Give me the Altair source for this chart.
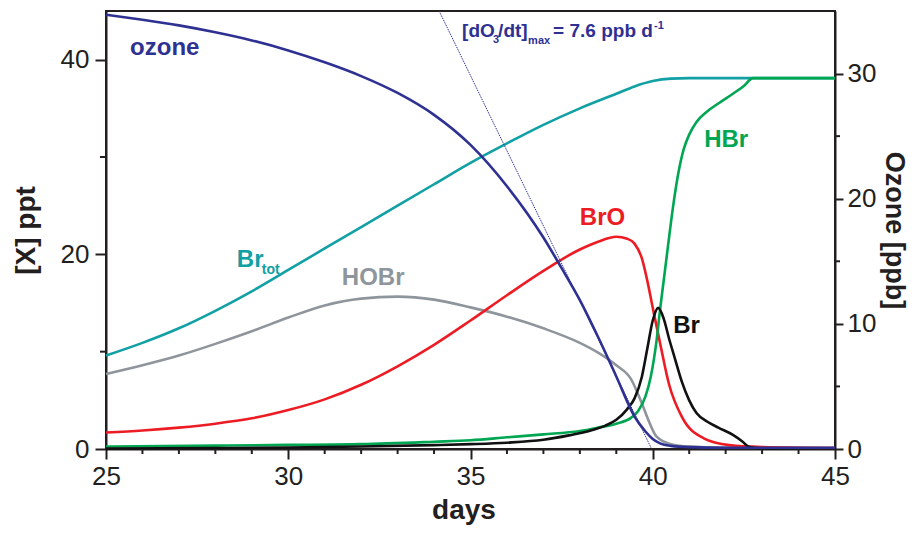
import altair as alt
import pandas as pd

FONT = "Liberation Sans"
INK = "#231f20"

# ---------------- data ----------------
ozone_day = [25, 26, 27, 28, 29, 30, 31, 32, 33, 34, 35, 36, 37, 37.5, 38, 38.5, 39, 39.5, 39.8, 40.0, 40.2, 40.5, 41, 42, 45]
ozone_ppb = [34.7, 34.3, 33.85, 33.3, 32.65, 31.85, 30.9, 29.8, 28.45, 26.7, 24.3, 21.0, 16.9, 14.45, 11.9, 8.95, 5.8, 2.6, 1.4, 0.8, 0.45, 0.25, 0.15, 0.1, 0.1]

tangent_day = [34.14, 39.97]
tangent_ppb = [35.0, 0.0]

brtot_day = [25, 26, 27, 28, 29, 30, 31, 32, 33, 34, 35, 36, 37, 38, 39, 39.5, 40, 40.5, 41, 45]
brtot_ppt = [9.6, 10.9, 12.4, 14.2, 16.2, 18.4, 20.6, 22.8, 25.0, 27.2, 29.4, 31.4, 33.3, 35.0, 36.5, 37.25, 37.8, 38.05, 38.1, 38.1]

hobr_day = [25, 26, 27, 28, 29, 30, 31, 32, 33, 34, 35, 36, 37, 38, 38.5, 39, 39.4, 39.7, 39.9, 40.1, 40.5, 41, 42, 45]
hobr_ppt = [7.7, 8.6, 9.6, 10.8, 12.1, 13.5, 14.75, 15.45, 15.65, 15.35, 14.55, 13.6, 12.4, 10.9, 9.9, 8.6, 7.2, 4.7, 2.8, 1.3, 0.5, 0.25, 0.15, 0.1]

bro_day = [25, 26, 27, 28, 29, 30, 31, 32, 33, 34, 35, 36, 37, 38, 38.5, 39, 39.3, 39.5, 39.7, 39.85, 40.0, 40.2, 40.45, 40.8, 41.4, 42.1, 43, 45]
bro_ppt = [1.7, 1.9, 2.2, 2.6, 3.15, 4.0, 5.1, 6.6, 8.5, 10.7, 13.2, 15.8, 18.3, 20.5, 21.3, 21.8, 21.6, 21.1, 19.6, 17.3, 14.5, 10.9, 6.6, 3.3, 1.1, 0.4, 0.2, 0.1]

br_day = [25, 28, 30, 32, 34, 35, 36, 37, 37.7, 38.3, 38.7, 39.0, 39.3, 39.5, 39.7, 39.85, 40.0, 40.15, 40.3, 40.45, 40.6, 40.8, 41.0, 41.2, 41.5, 41.8, 42.2, 42.45, 42.65, 43, 45]
br_ppt = [0.05, 0.1, 0.15, 0.25, 0.4, 0.5, 0.65, 0.95, 1.4, 1.9, 2.4, 3.0, 4.1, 5.2, 7.4, 10.3, 13.2, 14.5, 13.4, 11.3, 9.4, 6.9, 5.0, 3.7, 2.8, 2.2, 1.45, 0.8, 0.2, 0.05, 0.05]

hbr_day = [25, 28, 30, 32, 34, 35, 36, 37, 38, 38.5, 39, 39.4, 39.6, 39.8, 39.95, 40.1, 40.2, 40.3, 40.4, 40.55, 40.7, 40.85, 41.0, 41.2, 41.5, 41.8, 42.2, 42.5, 42.75, 45]
hbr_ppt = [0.25, 0.35, 0.42, 0.5, 0.75, 0.9, 1.2, 1.5, 1.85, 2.2, 2.6, 3.2, 3.9, 5.4, 7.5, 11.0, 14.3, 17.3, 20.3, 24.7, 28.3, 30.8, 32.3, 33.6, 34.7, 35.5, 36.5, 37.3, 38.1, 38.1]

series_names = ["Br_tot", "HOBr", "BrO", "HBr", "Br"]
series_colors = ["#11a0a4", "#8f959c", "#ed1c24", "#00a651", "#111111"]
series_widths = [2.6, 2.6, 2.6, 2.6, 1.6]
OZONE_COLOR = "#2e3192"

x_major = [25, 30, 35, 40, 45]
x_minor = [d for d in range(25, 46) if d % 5 != 0]
left_major = [0, 20, 40]
left_minor = [10, 30]
right_major = [0, 10, 20, 30]
right_minor = [5, 15, 25]

W, H = 729, 438

# ---------------- tables ----------------
def series_df(name, days, vals, field):
    return pd.DataFrame({"day": days, field: vals, "series": name})

left_df = pd.concat([
    series_df("Br_tot", brtot_day, brtot_ppt, "ppt"),
    series_df("HOBr", hobr_day, hobr_ppt, "ppt"),
    series_df("BrO", bro_day, bro_ppt, "ppt"),
    series_df("HBr", hbr_day, hbr_ppt, "ppt"),
    series_df("Br", br_day, br_ppt, "ppt"),
], ignore_index=True)
left_df["order"] = left_df["series"].map({n: i for i, n in enumerate(series_names)})

ozone_df = pd.DataFrame({"day": ozone_day, "ppb": ozone_ppb})
tangent_df = pd.DataFrame({"day": tangent_day, "ppb": tangent_ppb})

# ---------------- axes ----------------
x_axis = alt.Axis(values=x_major, tickSize=10, labelPadding=4, titlePadding=7,
                  labelFlush=False, title="days", titleX=W / 2 - 7)
left_axis = alt.Axis(values=left_major, orient="left", tickSize=11, labelPadding=6,
                     titlePadding=20, labelFlush=False, title="[X] ppt")
right_axis = alt.Axis(values=right_major, orient="right", tickSize=8, labelPadding=4,
                      titlePadding=4, labelFlush=False, title="Ozone [ppb]", titleFontSize=27)

xs = alt.Scale(domain=[25, 45], nice=False, zero=False)
ys_left = alt.Scale(domain=[0, 45], nice=False)
ys_right = alt.Scale(domain=[0, 35], nice=False)

X = alt.X("day:Q", scale=xs, axis=x_axis)
YL = alt.Y("ppt:Q", scale=ys_left, axis=left_axis)
YR = alt.Y("ppb:Q", scale=ys_right, axis=right_axis)

lines = alt.Chart(left_df).mark_line(interpolate="monotone").encode(
    x=X, y=YL,
    color=alt.Color("series:N", scale=alt.Scale(domain=series_names, range=series_colors), legend=None),
    strokeWidth=alt.StrokeWidth("series:N", scale=alt.Scale(domain=series_names, range=series_widths), legend=None),
    detail="series:N",
    order="order:Q",
)

# minor ticks, positioned through the chart's own scales
x_minor_ticks = alt.Chart(pd.DataFrame({"day": x_minor})).mark_rule(color=INK, strokeWidth=2).encode(
    x=X, y=alt.value(H), y2=alt.value(H + 5))
left_minor_ticks = alt.Chart(pd.DataFrame({"ppt": left_minor})).mark_rule(color=INK, strokeWidth=2).encode(
    y=YL, x=alt.value(0), x2=alt.value(-6))
right_minor_ticks = alt.Chart(pd.DataFrame({"ppb": right_minor})).mark_rule(color=INK, strokeWidth=2).encode(
    y=YR, x=alt.value(W), x2=alt.value(W + 5))

# labels (anchor = left end / baseline of the text, in data units)
def label(text, day, ppt, color, size=24, dx=0, dy=0, weight="bold"):
    return alt.Chart(pd.DataFrame({"day": [day], "ppt": [ppt], "t": [text]})).mark_text(
        align="left", baseline="alphabetic", font=FONT, fontSize=size, fontWeight=weight,
        color=color, dx=dx, dy=dy,
    ).encode(x=X, y=YL, text="t:N")

labels = [
    label("ozone", 25.66, 40.48, OZONE_COLOR),
    label("BrO", 38.0, 23.0, "#ed1c24"),
    label("HBr", 41.41, 31.03, "#00a651"),
    label("Br", 40.56, 11.92, "#111111"),
    label("Br", 28.59, 18.7, "#11a0a4"),
    label("tot", 28.59, 18.7, "#11a0a4", size=14, dx=25, dy=7),
    label("HOBr", 31.47, 16.85, "#8f959c"),
    # [dO3/dt]max = 7.6 ppb d-1
    label("[dO", 34.77, 42.33, OZONE_COLOR, size=19),
    label("3", 34.77, 42.33, OZONE_COLOR, size=11, dx=31, dy=6),
    label("/dt]", 34.77, 42.33, OZONE_COLOR, size=19, dx=36),
    label("max", 34.77, 42.33, OZONE_COLOR, size=11, dx=66, dy=7),
    label("= 7.6 ppb d", 34.77, 42.33, OZONE_COLOR, size=19, dx=91),
    label("-1", 34.77, 42.33, OZONE_COLOR, size=11, dx=192, dy=-8),
]

left_group = alt.layer(lines, x_minor_ticks, left_minor_ticks, *labels)

ozone = alt.Chart(ozone_df).mark_line(interpolate="monotone", color=OZONE_COLOR, strokeWidth=2.6).encode(x=X, y=YR)
tangent = alt.Chart(tangent_df).mark_line(color=OZONE_COLOR, strokeWidth=1, strokeDash=[1.5, 1]).encode(x=X, y=YR)
right_group = alt.layer(tangent, ozone, right_minor_ticks)

chart = alt.layer(left_group, right_group).resolve_scale(y="independent").properties(
    width=W, height=H, autosize="none",
    padding={"left": 98, "top": 3, "right": 74, "bottom": 77},
).configure_view(
    stroke=INK, strokeWidth=2,
).configure_axis(
    grid=False, domainColor=INK, domainWidth=2, tickColor=INK, tickWidth=2,
    labelFont=FONT, labelFontSize=26, labelColor=INK,
    titleFont=FONT, titleFontSize=28, titleFontWeight="bold", titleColor=INK,
)

chart.save("out.html", embed_options={"renderer": "svg", "actions": False})
